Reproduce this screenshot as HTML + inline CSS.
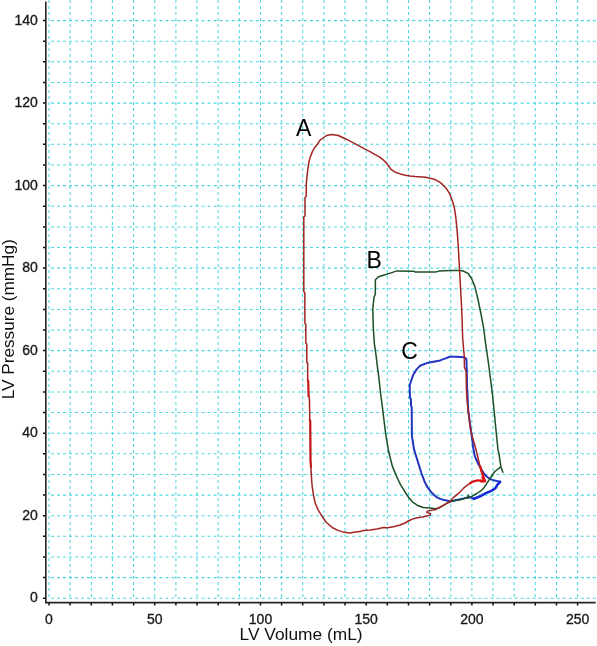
<!DOCTYPE html>
<html><head><meta charset="utf-8"><style>
html,body{margin:0;padding:0;background:#fff;width:597px;height:646px;overflow:hidden}
svg{display:block;will-change:transform;font-family:"Liberation Sans",sans-serif}
</style></head><body>
<svg width="597" height="646" viewBox="0 0 597 646">
<path d="M49.0 0V598 M70.1 0V598 M91.3 0V598 M112.4 0V598 M133.6 0V598 M154.7 0V598 M175.9 0V598 M197.0 0V598 M218.2 0V598 M239.3 0V598 M260.5 0V598 M281.6 0V598 M302.7 0V598 M323.9 0V598 M345.0 0V598 M366.2 0V598 M387.3 0V598 M408.5 0V598 M429.6 0V598 M450.8 0V598 M471.9 0V598 M493.0 0V598 M514.2 0V598 M535.3 0V598 M556.5 0V598 M577.6 0V598" stroke="#4ed6de" stroke-width="1.05" stroke-dasharray="3 3" fill="none"/>
<path d="M48 598.2H597 M48 577.6H597 M48 556.9H597 M48 536.3H597 M48 515.7H597 M48 495.1H597 M48 474.4H597 M48 453.8H597 M48 433.2H597 M48 412.5H597 M48 391.9H597 M48 371.3H597 M48 350.6H597 M48 330.0H597 M48 309.4H597 M48 288.8H597 M48 268.1H597 M48 247.5H597 M48 226.9H597 M48 206.2H597 M48 185.6H597 M48 165.0H597 M48 144.3H597 M48 123.7H597 M48 103.1H597 M48 82.5H597 M48 61.8H597 M48 41.2H597 M48 20.6H597" stroke="#4ed6de" stroke-width="1.05" stroke-dasharray="3.01 3.0105" stroke-dashoffset="3.0205" fill="none"/>
<path d="M45.8 1.5V602.6H595.7" stroke="#262626" stroke-width="1.6" fill="none"/>
<path d="M43 598.2H45.8 M43 577.6H45.8 M43 556.9H45.8 M43 536.3H45.8 M43 515.7H45.8 M43 495.1H45.8 M43 474.4H45.8 M43 453.8H45.8 M43 433.2H45.8 M43 412.5H45.8 M43 391.9H45.8 M43 371.3H45.8 M43 350.6H45.8 M43 330.0H45.8 M43 309.4H45.8 M43 288.8H45.8 M43 268.1H45.8 M43 247.5H45.8 M43 226.9H45.8 M43 206.2H45.8 M43 185.6H45.8 M43 165.0H45.8 M43 144.3H45.8 M43 123.7H45.8 M43 103.1H45.8 M43 82.5H45.8 M43 61.8H45.8 M43 41.2H45.8 M43 20.6H45.8 M49.0 603V605.4 M70.1 603V605.4 M91.3 603V605.4 M112.4 603V605.4 M133.6 603V605.4 M154.7 603V605.4 M175.9 603V605.4 M197.0 603V605.4 M218.2 603V605.4 M239.3 603V605.4 M260.5 603V605.4 M281.6 603V605.4 M302.7 603V605.4 M323.9 603V605.4 M345.0 603V605.4 M366.2 603V605.4 M387.3 603V605.4 M408.5 603V605.4 M429.6 603V605.4 M450.8 603V605.4 M471.9 603V605.4 M493.0 603V605.4 M514.2 603V605.4 M535.3 603V605.4 M556.5 603V605.4 M577.6 603V605.4" stroke="#111" stroke-width="1.5" fill="none"/>
<g font-size="14" fill="#1a1a1a" stroke="#1a1a1a" stroke-width="0.35"><text x="37.8" y="602.4" text-anchor="end">0</text><text x="37.8" y="519.9" text-anchor="end">20</text><text x="37.8" y="437.4" text-anchor="end">40</text><text x="37.8" y="354.8" text-anchor="end">60</text><text x="37.8" y="272.3" text-anchor="end">80</text><text x="37.8" y="189.8" text-anchor="end">100</text><text x="37.8" y="107.3" text-anchor="end">120</text><text x="37.8" y="24.8" text-anchor="end">140</text><text x="49.0" y="623.5" text-anchor="middle">0</text><text x="154.7" y="623.5" text-anchor="middle">50</text><text x="260.5" y="623.5" text-anchor="middle">100</text><text x="366.2" y="623.5" text-anchor="middle">150</text><text x="471.9" y="623.5" text-anchor="middle">200</text><text x="577.6" y="623.5" text-anchor="middle">250</text></g>
<text x="239.6" y="640" font-size="16.8" fill="#111" textLength="123" lengthAdjust="spacingAndGlyphs">LV Volume (mL)</text>
<text transform="translate(14,399.2) rotate(-90)" font-size="16.8" fill="#111" textLength="160" lengthAdjust="spacingAndGlyphs">LV Pressure (mmHg)</text>
<g font-size="23" fill="#000"><text x="296" y="135.6">A</text><text x="366.5" y="267.6">B</text><text x="401.3" y="359.1">C</text></g>
<polyline points="409.8,392.0 409.7,385.2 411.4,379.9 413.4,374.5 416.8,369.1 420.1,365.8 426.8,363.1 433.5,361.8 440.2,360.4 445.6,358.4 449.6,356.8 456.3,356.8 464.3,357.3 466.4,359.1 466.8,371.8 467.0,385.2 467.7,398.6 468.0,408.9 469.9,422.9 471.3,433.0 472.3,440.0 473.1,447.0 474.5,455.0 475.8,458.8 478.7,464.8 481.5,469.5 484.2,474.0 487.0,476.7 489.7,478.8 492.4,479.9 496.7,481.0 500.2,481.8 497.7,484.3 495.2,488.5 491.0,491.0 485.1,493.5 480.9,496.0 476.8,497.7 473.8,498.9 470.9,497.2 465.0,498.1 460.0,499.3 450.2,501.4 448.8,501.1 444.1,500.0 440.0,498.9 436.3,496.9 432.0,493.1 427.7,487.7 424.4,481.2 421.2,472.5 418.5,463.8 415.8,455.2 413.9,448.9 412.8,441.5 411.9,436.0 411.8,420.0 411.7,407.5 411.0,405.0 411.0,399.5 410.0,397.8 409.8,392.0" fill="none" stroke="#2234c0" stroke-width="2.0" stroke-linejoin="round" stroke-linecap="round"/>
<polyline points="500.2,481.8 497.7,484.3 495.2,488.5 491.0,491.0 485.1,493.5 480.9,496.0 476.8,497.7 473.8,498.9" fill="none" stroke="#1428d8" stroke-width="2.4" stroke-linejoin="round" stroke-linecap="round"/>
<polyline points="375.4,279.8 378.4,276.8 385.1,274.8 391.8,272.6 396.9,270.9 413.6,271.2 415.3,272.1 435.4,272.1 438.7,271.1 450.5,270.6 460.0,270.4 463.2,271.0 467.9,273.3 471.7,278.7 474.8,286.4 477.9,299.0 481.3,315.5 483.6,327.9 486.0,346.4 488.3,361.9 490.3,377.4 492.6,395.5 494.9,418.7 496.4,434.2 498.0,449.7 498.9,453.4 499.9,460.1 500.9,466.8 502.9,472.2 500.9,466.8 498.2,468.9 494.8,471.5 492.0,475.5 489.1,479.9 486.4,484.2 483.2,488.6 481.8,490.1 476.8,493.5 471.7,496.4 467.5,497.7 463.4,498.9 460.0,499.8 457.7,499.9 454.8,500.6 450.8,501.4 448.1,502.7 443.5,505.3 438.8,508.1 435.4,508.8 430.0,508.1 423.1,507.5 417.1,505.2 412.4,501.8 408.4,497.1 405.0,491.8 400.4,484.4 397.5,478.5 392.3,466.1 388.6,451.3 385.8,434.6 383.9,419.7 382.1,404.9 380.5,392.9 379.0,378.9 377.4,366.6 375.9,354.2 374.3,343.3 373.3,327.9 372.8,309.3 373.4,303.0 374.1,296.8 375.3,294.5 375.4,279.8" fill="none" stroke="#1d5026" stroke-width="1.5" stroke-linejoin="round" stroke-linecap="round"/>
<polyline points="468.4,495.2 467.6,497.8" fill="none" stroke="#1d5026" stroke-width="1.6" stroke-linejoin="round" stroke-linecap="round"/>
<polyline points="310.5,460.0 310.9,467.4 311.4,476.1 312.1,486.0 313.4,494.7 315.1,502.8 318.0,509.6 321.7,515.8 326.0,522.0 332.2,527.5 338.4,530.6 343.4,532.1 349.6,532.9 355.8,532.1 360.0,531.6 363.4,530.5 370.1,529.9 376.8,529.1 383.5,527.6 387.7,527.8 393.6,526.8 400.0,525.0 405.0,523.0 409.2,520.5 414.3,518.4 420.1,517.3 422.7,517.1 426.7,516.1 430.0,515.1 430.7,513.8 428.7,513.1 426.7,512.1 427.4,511.1 430.0,510.4 432.7,510.1 436.1,509.4 439.4,507.4 443.5,505.1 448.1,502.7 450.8,500.7 453.5,497.4 456.2,495.4 460.0,492.0 464.2,487.6 468.4,484.3 472.6,481.8 476.8,480.5 480.9,480.5 484.7,480.9 484.3,479.5 482.6,475.1 480.9,470.0 480.2,466.7 478.6,460.5 477.1,454.3 474.8,445.0 472.4,437.3 470.1,426.4 468.0,408.9 467.1,400.0 466.4,390.0 466.2,372.0 464.4,367.0 464.3,356.7 463.8,351.0 462.7,338.7 462.0,315.5 461.2,300.0 460.6,289.5 458.2,245.0 457.1,230.4 455.9,218.3 454.4,207.8 452.1,200.2 449.9,194.2 446.1,188.2 440.8,182.9 434.8,179.4 425.7,177.3 415.2,176.6 410.0,176.0 405.2,175.2 400.2,173.9 395.2,172.2 391.0,169.3 388.5,166.0 386.0,162.6 382.6,159.3 379.3,156.8 375.1,154.7 370.0,151.7 365.0,149.2 355.3,143.8 345.3,138.7 342.6,137.5 338.3,135.5 331.6,134.5 326.5,135.5 323.0,138.0 320.0,140.1 317.0,144.8 314.7,147.5 312.4,151.6 310.4,156.6 308.9,161.7 308.2,167.1 307.6,171.0 307.0,176.4 306.3,184.0 306.2,196.5 305.0,197.5 305.0,216.0 303.8,216.8 303.8,291.5 304.8,292.8 304.9,323.5 305.8,324.2 305.8,343.0 306.8,344.0 306.8,362.5 307.7,363.2 307.7,380.0 308.3,381.0 308.6,396.5 309.4,397.5 309.8,420.0 310.3,421.0 310.5,460.0" fill="none" stroke="#a42424" stroke-width="1.5" stroke-linejoin="round" stroke-linecap="round"/>
<polyline points="307.7,380.0 308.3,381.0 308.6,396.5" fill="none" stroke="#c81818" stroke-width="2" stroke-linejoin="round" stroke-linecap="round"/>
<polyline points="309.8,420.0 310.3,421.0 310.5,460.0 310.9,467.0" fill="none" stroke="#c01515" stroke-width="2" stroke-linejoin="round" stroke-linecap="round"/>
<polyline points="480.3,466.5 481.5,471.2 483.2,475.6 484.3,479.5 484.7,480.9 480.9,480.5 476.8,480.5 472.6,481.8 470.0,483.3" fill="none" stroke="#dd1010" stroke-width="2.2" stroke-linejoin="round" stroke-linecap="round"/>
<polyline points="482.5,477.0 485.0,481.2 481.0,481.2" fill="none" stroke="#e01010" stroke-width="2.5" stroke-linejoin="round" stroke-linecap="round"/>
</svg>
</body></html>
